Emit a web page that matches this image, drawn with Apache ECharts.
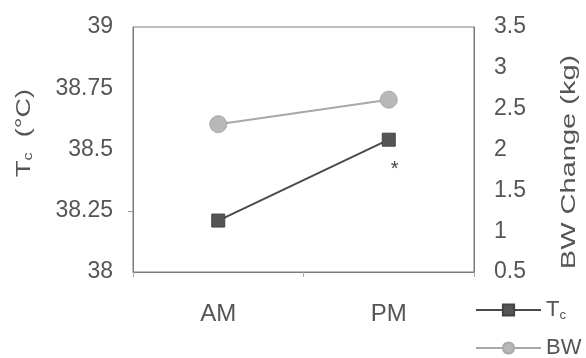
<!DOCTYPE html>
<html><head><meta charset="utf-8">
<script src="https://cdn.jsdelivr.net/npm/echarts@6/dist/echarts.min.js"></script>
<style>html,body{margin:0;padding:0;background:#fff}#c{width:586px;height:358px}</style>
</head><body><div id="c"></div>
<script>
var categories = ['AM', 'PM'];
var tcValues = [38.21, 38.54];
var bwValues = [2.31, 2.61];
var leftTicks = [38, 38.25, 38.5, 38.75, 39];
var rightTicks = [0.5, 1, 1.5, 2, 2.5, 3, 3.5];

var chart = echarts.init(document.getElementById('c'), null, {renderer: 'canvas'});
var FONT = 'Liberation Sans, Arial, sans-serif';
var txt = '#555';
var legendText = {color: txt, fontSize: 22, fontFamily: FONT,
  rich: {s: {fontSize: 13, color: txt, fontFamily: FONT, verticalAlign: 'bottom', padding: [10, 0, 0, 0]},
         m: {fontSize: 22, color: txt, fontFamily: FONT}}};
function legendFmt(n) { return n === 'Tc' ? '{m|T}{s|c}' : '{m|' + n + '}'; }
chart.setOption({
  animation: false,
  backgroundColor: '#fff',
  grid: {left: 133, right: 112, top: 27, bottom: 86, show: true, borderColor: '#7a7a7a', borderWidth: 1},
  xAxis: {
    type: 'category', data: categories, boundaryGap: true,
    axisLine: {lineStyle: {color: '#7a7a7a'}},
    axisTick: {show: true, length: 5, lineStyle: {color: '#aaa'}},
    axisLabel: {color: txt, fontSize: 24, fontFamily: FONT, margin: 30}
  },
  yAxis: [{
    type: 'value', min: 38, max: 39, interval: 0.25, position: 'left',
    splitLine: {show: false},
    axisLine: {show: true, lineStyle: {color: '#7a7a7a'}},
    axisTick: {show: true, length: 5, customValues: [leftTicks[1]], lineStyle: {color: '#999'}},
    axisLabel: {color: txt, fontSize: 23, fontFamily: FONT, margin: 20,
      customValues: leftTicks, formatter: function (v) { return String(v); }}
  }, {
    type: 'value', min: 0.5, max: 3.5, interval: 0.5, position: 'right',
    splitLine: {show: false},
    axisLine: {show: true, lineStyle: {color: '#7a7a7a'}},
    axisTick: {show: false},
    axisLabel: {color: txt, fontSize: 23, fontFamily: FONT, margin: 20,
      customValues: rightTicks, formatter: function (v) { return String(v); }}
  }],
  legend: [{
    orient: 'vertical', left: 475, top: 299, padding: 0, itemWidth: 65, itemHeight: 14,
    textStyle: legendText, formatter: legendFmt, data: ['Tc']
  }, {
    orient: 'vertical', left: 475, top: 337, padding: 0, itemWidth: 65, itemHeight: 14,
    textStyle: legendText, formatter: legendFmt, data: ['BW']
  }],
  graphic: [{
    type: 'text', x: 24, y: 133, rotation: Math.PI / 2, scaleX: 1.35,
    style: {text: '{m|T}{s|c}{m|  (°C)}', align: 'center', verticalAlign: 'middle', fill: txt,
      rich: {m: {fontSize: 20, fontFamily: FONT, fill: txt}, s: {fontSize: 12, fontFamily: FONT, fill: txt, padding: [9, 0, 0, 0]}}}
  }, {
    type: 'text', x: 569, y: 162, rotation: Math.PI / 2, scaleX: 1.45,
    style: {text: 'BW Change (kg)', align: 'center', verticalAlign: 'middle', fill: txt,
      font: '20px ' + FONT}
  }],
  series: [{
    name: 'Tc', type: 'line', yAxisIndex: 0,
    data: tcValues.map(function (v, i) {
      return i === 1 ? {value: v, label: {show: true, formatter: '*', position: 'bottom', offset: [6, 8], color: '#444', fontSize: 20, fontFamily: FONT}} : v;
    }),
    symbol: 'rect', symbolSize: 13,
    lineStyle: {color: '#4a4a4a', width: 2},
    itemStyle: {color: '#555', borderColor: '#444', borderWidth: 1}
  }, {
    name: 'BW', type: 'line', yAxisIndex: 1, data: bwValues,
    symbol: 'circle', symbolSize: 17,
    lineStyle: {color: '#a8a8a8', width: 2},
    itemStyle: {color: '#b8b8b8', borderColor: '#aaa', borderWidth: 1}
  }]
});
</script></body></html>
